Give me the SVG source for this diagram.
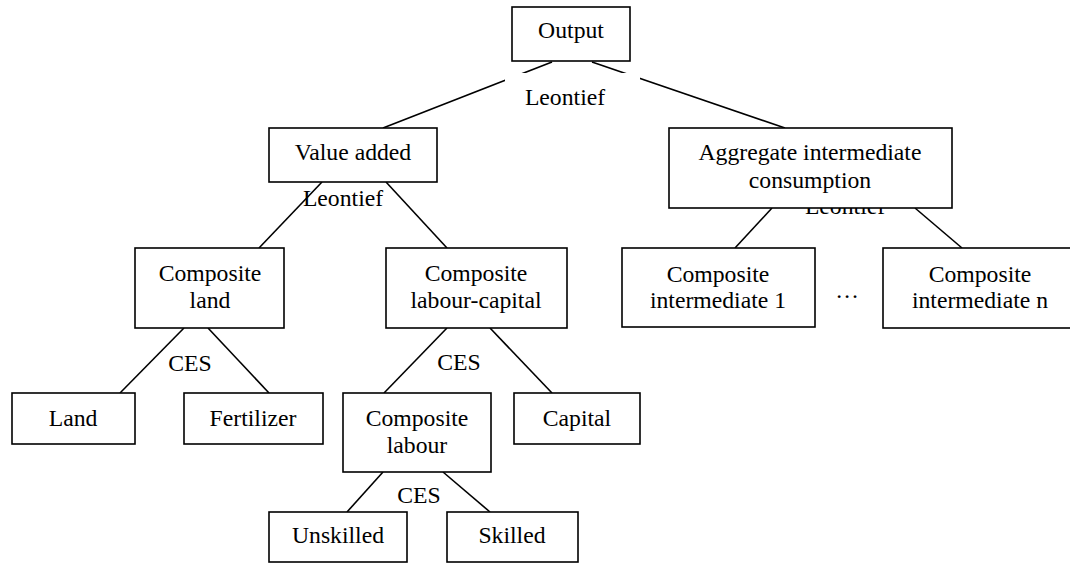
<svg xmlns="http://www.w3.org/2000/svg" width="1070" height="564" viewBox="0 0 1070 564">
<style>
  .box { fill: #ffffff; stroke: #000000; stroke-width: 1.6; }
  .edge { stroke: #000000; stroke-width: 1.6; fill: none; }
  text { font-family: "Liberation Serif", "Times New Roman", serif; font-size: 23.7px; fill: #000000; text-anchor: middle; }
</style>
<rect x="0" y="0" width="1070" height="564" fill="#ffffff"/>
<g id="connectors">
  <line class="edge" x1="552" y1="62" x2="383" y2="128"/>
  <line class="edge" x1="592" y1="62" x2="785" y2="128"/>
  <line class="edge" x1="322" y1="182" x2="259" y2="248"/>
  <line class="edge" x1="386" y1="182" x2="447" y2="248"/>
  <line class="edge" x1="772" y1="208" x2="735" y2="248"/>
  <line class="edge" x1="915" y1="208" x2="962" y2="248"/>
  <line class="edge" x1="184" y1="328" x2="120" y2="393"/>
  <line class="edge" x1="208" y1="328" x2="269" y2="393"/>
  <line class="edge" x1="447" y1="328" x2="384" y2="393"/>
  <line class="edge" x1="490" y1="328" x2="552" y2="393"/>
  <line class="edge" x1="383" y1="472" x2="347" y2="512"/>
  <line class="edge" x1="443" y1="472" x2="490" y2="512"/>
</g>
<g id="labels">
  <g id="label-leontief-output">
    <rect x="505" y="73" width="135" height="40" fill="#ffffff"/>
    <text x="565" y="105">Leontief</text>
  </g>
  <text id="label-leontief-va" x="343" y="206">Leontief</text>
  <text id="label-leontief-aic" x="845" y="214">Leontief</text>
  <text id="label-ces-land" x="190" y="371">CES</text>
  <text id="label-ces-labcap" x="459" y="370">CES</text>
  <text id="label-ces-labour" x="419" y="503">CES</text>
  <text id="label-ellipsis" x="847" y="298">…</text>
</g>
<g id="node-output">
  <rect class="box" x="512" y="7" width="118" height="54"/>
  <text x="571" y="38">Output</text>
</g>
<g id="node-value-added">
  <rect class="box" x="269" y="128" width="168" height="54"/>
  <text x="353" y="160">Value added</text>
</g>
<g id="node-aggregate">
  <rect class="box" x="669" y="128" width="283" height="80"/>
  <text x="810" y="160">Aggregate intermediate</text>
  <text x="810" y="188">consumption</text>
</g>
<g id="node-composite-land">
  <rect class="box" x="135" y="248" width="149" height="80"/>
  <text x="210" y="281">Composite</text>
  <text x="210" y="308">land</text>
</g>
<g id="node-composite-labour-capital">
  <rect class="box" x="386" y="248" width="181" height="80"/>
  <text x="476" y="281">Composite</text>
  <text x="476" y="308">labour-capital</text>
</g>
<g id="node-composite-intermediate-1">
  <rect class="box" x="622" y="248" width="193" height="79"/>
  <text x="718" y="282">Composite</text>
  <text x="718" y="308">intermediate 1</text>
</g>
<g id="node-composite-intermediate-n">
  <rect class="box" x="883" y="248" width="194" height="80"/>
  <text x="980" y="282">Composite</text>
  <text x="980" y="308">intermediate n</text>
</g>
<g id="node-land">
  <rect class="box" x="12" y="393" width="123" height="51"/>
  <text x="73" y="426">Land</text>
</g>
<g id="node-fertilizer">
  <rect class="box" x="184" y="393" width="139" height="51"/>
  <text x="253" y="426">Fertilizer</text>
</g>
<g id="node-composite-labour">
  <rect class="box" x="343" y="393" width="148" height="79"/>
  <text x="417" y="426">Composite</text>
  <text x="417" y="453">labour</text>
</g>
<g id="node-capital">
  <rect class="box" x="514" y="393" width="126" height="51"/>
  <text x="577" y="426">Capital</text>
</g>
<g id="node-unskilled">
  <rect class="box" x="269" y="512" width="138" height="50"/>
  <text x="338" y="543">Unskilled</text>
</g>
<g id="node-skilled">
  <rect class="box" x="447" y="512" width="131" height="50"/>
  <text x="512" y="543">Skilled</text>
</g>
</svg>
